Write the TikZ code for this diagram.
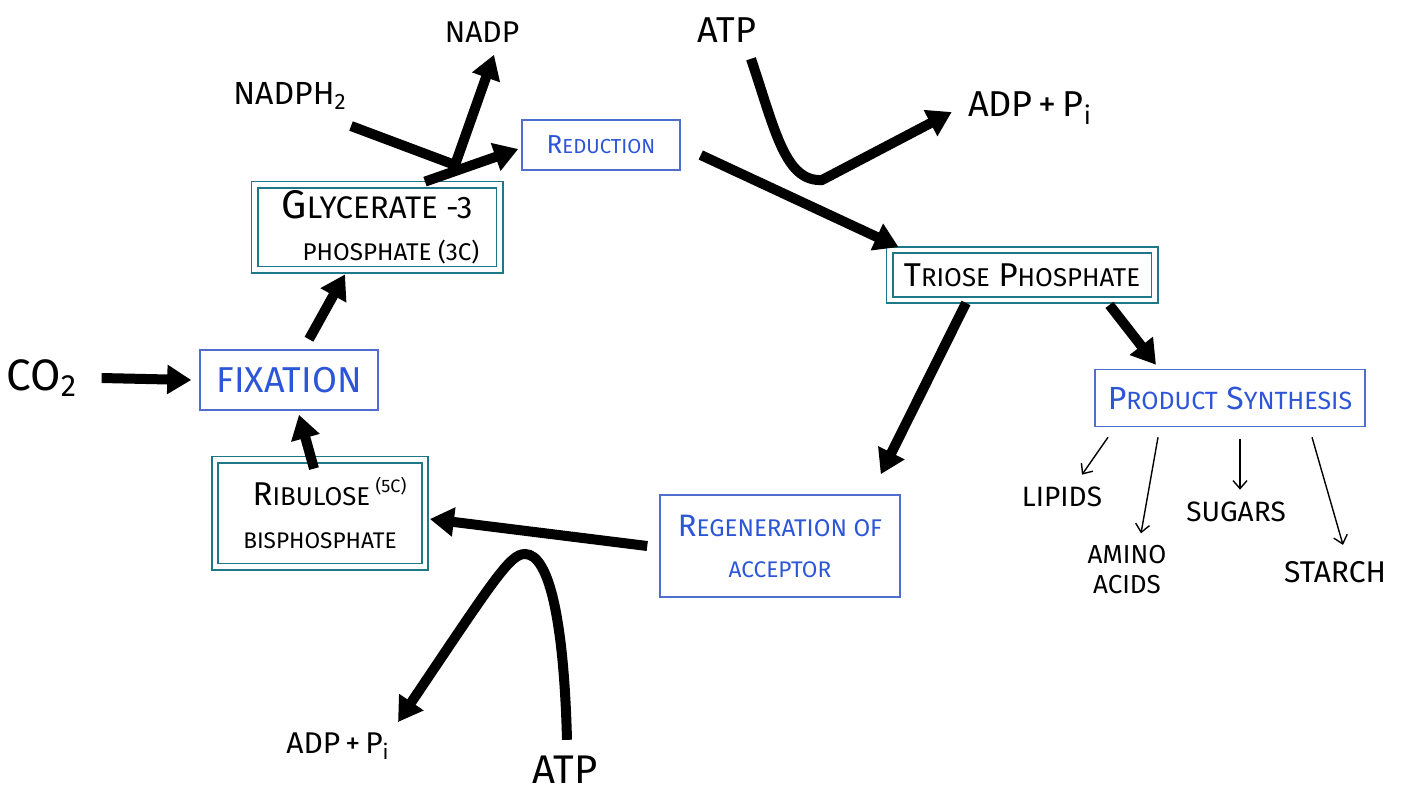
\documentclass[tikz,border=0pt]{standalone}
\usepackage{fontspec}
\setmainfont{Fira Sans}
\usetikzlibrary{arrows.meta}
\definecolor{boxblue}{RGB}{80,110,205}
\definecolor{txtblue}{RGB}{45,85,215}
\definecolor{tealbox}{RGB}{30,120,135}
\newcommand\sm[1]{\scalebox{0.78}{#1}}
\newcommand\fs[1]{\fontsize{#1}{#1}\selectfont}
\begin{document}
\begin{tikzpicture}[x=0.5pt,y=-0.5pt,
  proc/.style={draw=boxblue, line width=0.75pt, text=txtblue, inner sep=0pt, align=center},
  chem/.style={draw=tealbox, double=white, double distance=2.2pt, line width=0.9pt, inner sep=0pt, text=black, align=center},
  lbl/.style={inner sep=0pt, text=black, align=center},
  fatarrow/.style={line width=5pt, -{Triangle[length=12pt,width=14pt]}},
  prodarrow/.style={line width=0.7pt, -{Straight Barb[length=4pt,width=7pt]}},
]
\useasboundingbox (0,0) rectangle (1408,794);

% process boxes
\node[proc, minimum width=79pt, minimum height=25pt, font=\fs{13}] (red) at (601,145) {R\sm{EDUCTION}};
\node[proc, minimum width=89pt, minimum height=30pt, font=\fs{18}] (fix) at (289,380) {FIXATION};
\node[proc, minimum width=120pt, minimum height=51pt, font=\fs{15.5}] (reg) at (780,546) {R\sm{EGENERATION OF}\\[5pt]{\fs{14.5}\sm{ACCEPTOR}}};
\node[proc, minimum width=135pt, minimum height=28.5pt, font=\fs{16}] (prod) at (1230,398) {P\sm{RODUCT} S\sm{YNTHESIS}};

% chemical boxes
\node[chem, minimum width=122.5pt, minimum height=42.5pt, font=\fs{20}] (gly) at (377,227) {G\sm{LYCERATE -3}\\[1pt]\hspace*{14pt}{\fs{15.5}\sm{PHOSPHATE (3C)}}};
\node[chem, minimum width=132.5pt, minimum height=25pt, font=\fs{16.5}] (tri) at (1022,275) {T\sm{RIOSE} P\sm{HOSPHATE}};
\node[chem, minimum width=105pt, minimum height=53.5pt, font=\fs{16.5}] (rib) at (320,513) {\hspace*{10pt}R\sm{IBULOSE}\,\textsuperscript{\sm{(5C)}}\\[5pt]{\fs{14.5}\sm{BISPHOSPHATE}}};

% labels
\node[lbl, font=\fs{15}] (nadp) at (482,32) {NADP};
\node[lbl, font=\fs{16}] (nadph) at (290,96) {NADPH\textsubscript{2}};
\node[lbl, font=\fs{18}] (atpA) at (727,30) {ATP};
\node[lbl, font=\fs{18}] (adpA) at (1030,108) {ADP\,+\,P\textsubscript{i}};
\node[lbl, font=\fs{22}] (co2) at (42,378) {CO\textsubscript{2}};
\node[lbl, font=\fs{15}] (adpB) at (338,746) {ADP\,+\,P\textsubscript{i}};
\node[lbl, font=\fs{20}] (atpB) at (565,770) {ATP};
\node[lbl, font=\fs{14}] (lipids) at (1062,497) {LIPIDS};
\node[lbl, font=\fs{13}] (amino) at (1127,570) {AMINO\\[2pt]ACIDS};
\node[lbl, font=\fs{14}] (sugars) at (1236,512) {SUGARS};
\node[lbl, font=\fs{15}] (starch) at (1335,572) {STARCH};

% main cycle arrows
\draw[fatarrow] ([xshift=12pt]co2.east) -- ([xshift=-4pt]fix.west);
\draw[fatarrow] ([xshift=-3pt,yshift=-5pt]rib.north) -- ([xshift=5pt,yshift=-2pt]fix.south);
\draw[fatarrow] ([xshift=10pt,yshift=5pt]fix.north) -- ([xshift=-16pt,yshift=-2pt]gly.south);
\draw[fatarrow] ([xshift=24pt,yshift=1pt]gly.north) -- ([xshift=-1.5pt,yshift=-2pt]red.west);
\coordinate (j) at (455,165);
\draw[fatarrow, line join=round] ([xshift=2pt,yshift=-8pt]nadph.south east) -- (j) -- ([xshift=6pt,yshift=-6pt]nadp.south);
\draw[fatarrow] ([xshift=10pt,yshift=-5pt]red.east) -- ([xshift=5pt,yshift=1pt]tri.north west);
\draw[fatarrow] ([xshift=12pt,yshift=-8pt]atpA.south) .. controls (775,130) and (785,182) .. (822,180) -- ([xshift=-8pt,yshift=-2pt]adpA.west);
\draw[fatarrow] ([xshift=-28pt,yshift=-1pt]tri.south) -- ([xshift=-10pt,yshift=10pt]reg.north east);
\draw[fatarrow] ([xshift=-23pt,yshift=-2pt]tri.south east) -- ([xshift=-37pt,yshift=2pt]prod.north);
\draw[fatarrow] ([xshift=-6pt]reg.west) -- ([xshift=2pt,yshift=-3pt]rib.east);
\draw[fatarrow] ([xshift=1pt,yshift=8pt]atpB.north) .. controls (564,625) and (550,554) .. (525,554) .. controls (510,554) and (495,578) .. ([xshift=4pt,yshift=5pt]adpB.north east);

% product arrows
\draw[prodarrow] ([xshift=-61pt,yshift=-5pt]prod.south) -- ([xshift=10pt,yshift=6pt]lipids.north);
\draw[prodarrow] ([xshift=-36pt,yshift=-5pt]prod.south) -- ([xshift=7pt,yshift=6pt]amino.north);
\draw[prodarrow] ([xshift=5pt,yshift=-6pt]prod.south) -- ([xshift=2pt,yshift=6pt]sugars.north);
\draw[prodarrow] ([xshift=41pt,yshift=-5pt]prod.south) -- ([xshift=4pt,yshift=8pt]starch.north);
\end{tikzpicture}
\end{document}
